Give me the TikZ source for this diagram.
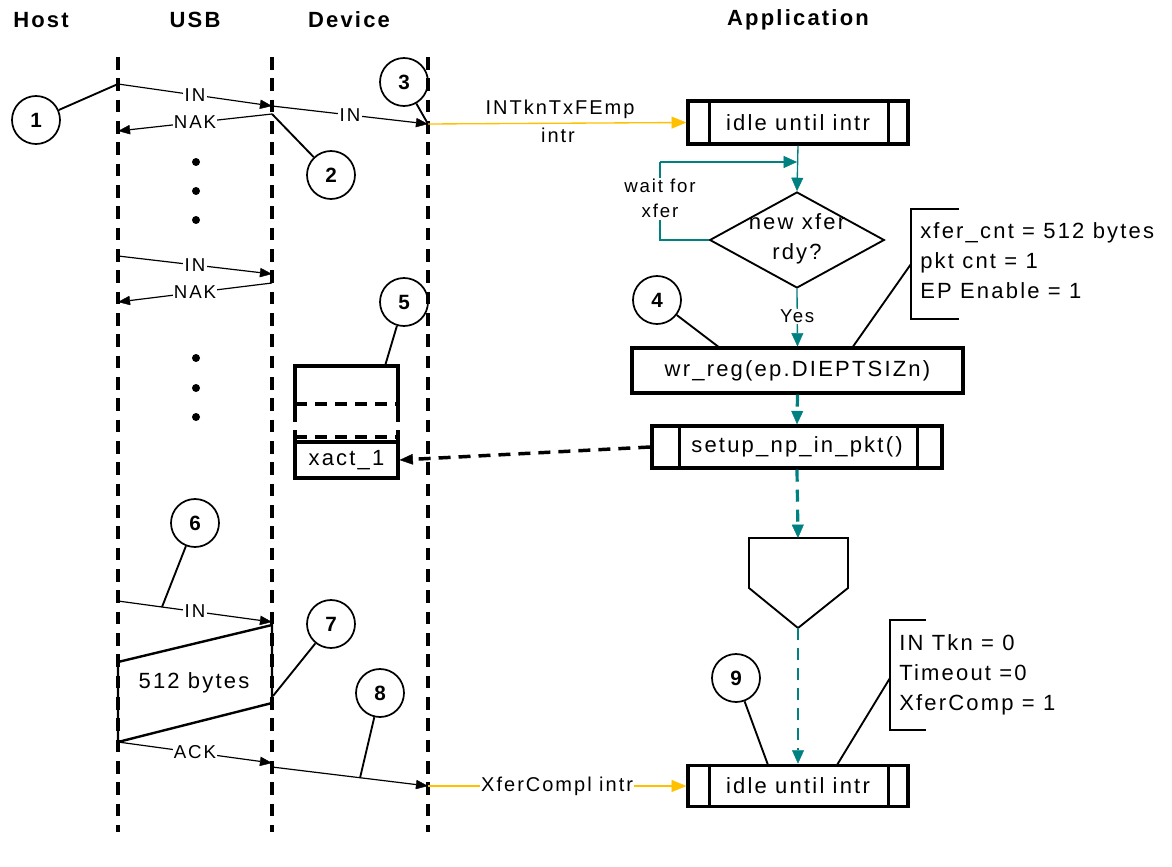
\documentclass[tikz,border=0pt]{standalone}
\usepackage{fontspec}
\setmainfont[LetterSpace=10]{Liberation Sans}
\usetikzlibrary{arrows.meta,shapes.geometric,calc}
\definecolor{tealc}{RGB}{0,128,128}
\definecolor{goldc}{RGB}{255,192,0}
\begin{document}
\begin{tikzpicture}[x=0.75pt,y=-0.75pt,
  every node/.style={inner sep=0pt},
  hdr/.style={font=\bfseries\fontsize{16.5}{20}\selectfont},
  big/.style={font=\fontsize{16.5}{22.5}\selectfont},
  small/.style={font=\fontsize{14}{16}\selectfont},
  midf/.style={font=\fontsize{15}{17}\selectfont},
  lifeline/.style={line width=2.3pt, dash pattern=on 9.5pt off 6.5pt},
  msg/.style={line width=0.9pt, -{Triangle[length=9pt,width=7pt,line width=0.3pt]}},
  lbl/.style={small, fill=white, inner sep=1pt},
  num/.style={circle, draw, line width=1.3pt, minimum size=36pt, font=\bfseries\fontsize{15.5}{18}\selectfont},
  pin/.style={line width=1.4pt},
  pbox/.style={draw, line width=2.6pt, big},
  innerline/.style={line width=2.3pt},
  tsolid/.style={draw=tealc, line width=1pt, -{Triangle[length=10pt,width=9pt,line width=0.3pt]}},
  tdash/.style={draw=tealc, line width=2.4pt, dash pattern=on 9pt off 6pt, -{Triangle[length=10pt,width=9pt,line width=0.3pt]}},
  yarrow/.style={draw=goldc, line width=1pt, -{Triangle[length=11pt,width=9pt,line width=0.3pt]}},
  qline/.style={line width=2.6pt},
  qdash/.style={line width=2.6pt, dash pattern=on 9pt off 6pt},
  bracket/.style={line width=1.4pt}
]
\useasboundingbox (0,0) rectangle (1172,867);

% headers
\node[hdr] (hHost) at (41,20) {Host};
\node[hdr] (hUSB) at (195,20) {USB};
\node[hdr] (hDev) at (349,20) {Device};
\node[hdr] (hApp) at (798,20) {Application};

% lifelines
\coordinate (usbT) at (118,57);  \coordinate (usbB) at (118,832);
\coordinate (devT) at (272,57);  \coordinate (devB) at (272,832);
\coordinate (appT) at (428,57);  \coordinate (appB) at (428,832);
\draw[lifeline] (usbT) -- (usbB);
\draw[lifeline] (devT) -- (devB);
\draw[lifeline] (appT) -- (appB);

% first IN / NAK
\coordinate (a1) at (118,84);  \coordinate (b1) at (272,106);
\coordinate (c1) at (428,124);
\coordinate (a2) at (272,114); \coordinate (b2) at (118,131);
\draw[msg] (a1) -- node[lbl] (lin1) {IN} (b1);
\draw[msg] (b1) -- node[lbl] (lin2) {IN} (c1);
\draw[msg] (a2) -- node[lbl] (lnak1) {NAK} (b2);

\node[num] (n1) at (36,120) {1};
\node[num] (n2) at (331,175) {2};
\node[num] (n3) at (404,82) {3};
\draw[pin] (n1) -- (a1);
\draw[pin] (a2) -- (n2);
\draw[pin] (n3) -- (c1);

\fill (196,162) circle (3pt);
\fill (196,191) circle (3pt);
\fill (196,220) circle (3pt);

% second IN / NAK
\coordinate (a3) at (118,256); \coordinate (b3) at (272,274);
\coordinate (a4) at (272,283); \coordinate (b4) at (118,302);
\draw[msg] (a3) -- node[lbl] (lin3) {IN} (b3);
\draw[msg] (a4) -- node[lbl] (lnak2) {NAK} (b4);

\fill (196,358) circle (3pt);
\fill (196,388) circle (3pt);
\fill (196,417) circle (3pt);

% queue
\node[num] (n5) at (404,302) {5};
\coordinate (qtop) at (385,366);
\draw[pin] (n5) -- (qtop);
\draw[qline] (295,404) -- (295,366) -- (398,366) -- (398,404);
\draw[qdash] (295,404) -- (398,404);
\draw[qline] (295,404) -- (295,422);
\draw[qline] (398,404) -- (398,422);
\draw[qline] (295,430) -- (295,442);
\draw[qline] (398,430) -- (398,442);
\draw[qdash] (295,437) -- (398,437);
\node[draw, line width=2.6pt, big, minimum width=77pt, minimum height=27pt] (xact) at (346.5,460) {xact\_1};

% third IN, data, ACK
\node[num] (n6) at (195,523) {6};
\coordinate (a5) at (118,601); \coordinate (b5) at (272,622);
\coordinate (p6) at (162,607);
\draw[msg] (a5) -- node[lbl] (lin4) {IN} (b5);
\draw[pin] (n6) -- (p6);

\draw[line width=1.8pt] (118,662) -- (272,625) -- (272,703) -- (118,742) -- cycle;
\node[big] (data) at (194,683) {512 bytes};
\node[num] (n7) at (331,624) {7};
\coordinate (p7) at (273,696);
\draw[pin] (n7) -- (p7);

\coordinate (a6) at (118,742); \coordinate (b6) at (272,763);
\draw[msg] (a6) -- node[lbl] (lack) {ACK} (b6);
\coordinate (a7) at (272,767); \coordinate (b7) at (428,786);
\draw[msg] (a7) -- (b7);
\node[num] (n8) at (380,693) {8};
\coordinate (p8) at (360,778);
\draw[pin] (n8) -- (p8);

% application side
\node[pbox, minimum width=165pt, minimum height=32pt] (idle1) at (798,122.5) {idle until intr};
\draw[innerline] ($(idle1.north west)+(23,0)$) -- ($(idle1.south west)+(23,0)$);
\draw[innerline] ($(idle1.north east)+(-21,0)$) -- ($(idle1.south east)+(-21,0)$);

\draw[yarrow] (c1) -- (idle1.west);
\node[midf] (lint1) at (560,109) {INTknTxFEmp};
\node[midf] (lint2) at (558,135) {intr};

\node[draw, diamond, line width=1.4pt, minimum width=131pt, minimum height=72pt] (dia) at (797,240) {};
\node[big, align=center] (diatext) at (797,239) {new xfer\\rdy?};

\draw[tsolid] (idle1.south) -- (dia.north);
\coordinate (lp1) at (660,240); \coordinate (lp2) at (660,162); \coordinate (lp3) at (797,162);
\draw[draw=tealc, line width=1pt] (dia.west) -- (lp1) -- node[lbl, align=center, font=\fontsize{14}{19}\selectfont, pos=0.53] (wait) {wait for\\xfer} (lp2);
\draw[tsolid] (lp2) -- (lp3);

\node[pbox, minimum width=248pt, minimum height=33.5pt] (wr) at (797.5,370.5) {wr\_reg(ep.DIEPTSIZn)};
\draw[tsolid] (dia.south) -- node[lbl, pos=0.48] (yes) {Yes} (wr.north);

\draw[bracket] (959,209) -- (911,209) -- (911,319) -- (959,319);
\node[big, align=left, anchor=west] (ann1) at (920,261) {xfer\_cnt = 512 bytes\\pkt cnt = 1\\EP Enable = 1};
\coordinate (br1) at (911,264);
\coordinate (wrp1) at (852,348);
\draw[pin] (br1) -- (wrp1);

\node[num] (n4) at (657,300) {4};
\coordinate (wrp2) at (720,348);
\draw[pin] (n4) -- (wrp2);

\node[pbox, minimum width=217.5pt, minimum height=31.5pt] (setup) at (797,447) {setup\_np\_in\_pkt()};
\draw[innerline] ($(setup.north west)+(29,0)$) -- ($(setup.south west)+(29,0)$);
\draw[innerline] ($(setup.north east)+(-26,0)$) -- ($(setup.south east)+(-26,0)$);
\draw[tdash] (wr.south) -- (setup.north);

\draw[line width=2.6pt, dash pattern=on 9pt off 6pt, -{Triangle[length=10pt,width=8pt,line width=0.3pt]}] (setup.west) -- (xact.east);

\coordinate (pentT) at (798,538);
\coordinate (pentB) at (798,628);
\draw[line width=1.4pt] (749,538) -- (848,538) -- (848,588) -- (pentB) -- (749,588) -- cycle;
\draw[tdash] (setup.south) -- (pentT);

\node[pbox, minimum width=165pt, minimum height=31pt] (idle2) at (798,786) {idle until intr};
\draw[innerline] ($(idle2.north west)+(23,0)$) -- ($(idle2.south west)+(23,0)$);
\draw[innerline] ($(idle2.north east)+(-21,0)$) -- ($(idle2.south east)+(-21,0)$);
\draw[tdash, line width=2pt] (pentB) -- (idle2.north);

\draw[yarrow] (b7) -- node[fill=white, midf, inner sep=1pt] (lxc) {XferCompl intr} (idle2.west);

\node[num] (n9) at (736,678) {9};
\coordinate (i2p1) at (768,765);
\draw[pin] (n9) -- (i2p1);

\draw[bracket] (926,620) -- (890,620) -- (890,730) -- (926,730);
\node[big, align=left, anchor=west] (ann2) at (899,675) {IN Tkn = 0\\Timeout =0\\XferComp = 1};
\coordinate (br2) at (890,678);
\coordinate (i2p2) at (837,765);
\draw[pin] (br2) -- (i2p2);
\end{tikzpicture}
\end{document}
